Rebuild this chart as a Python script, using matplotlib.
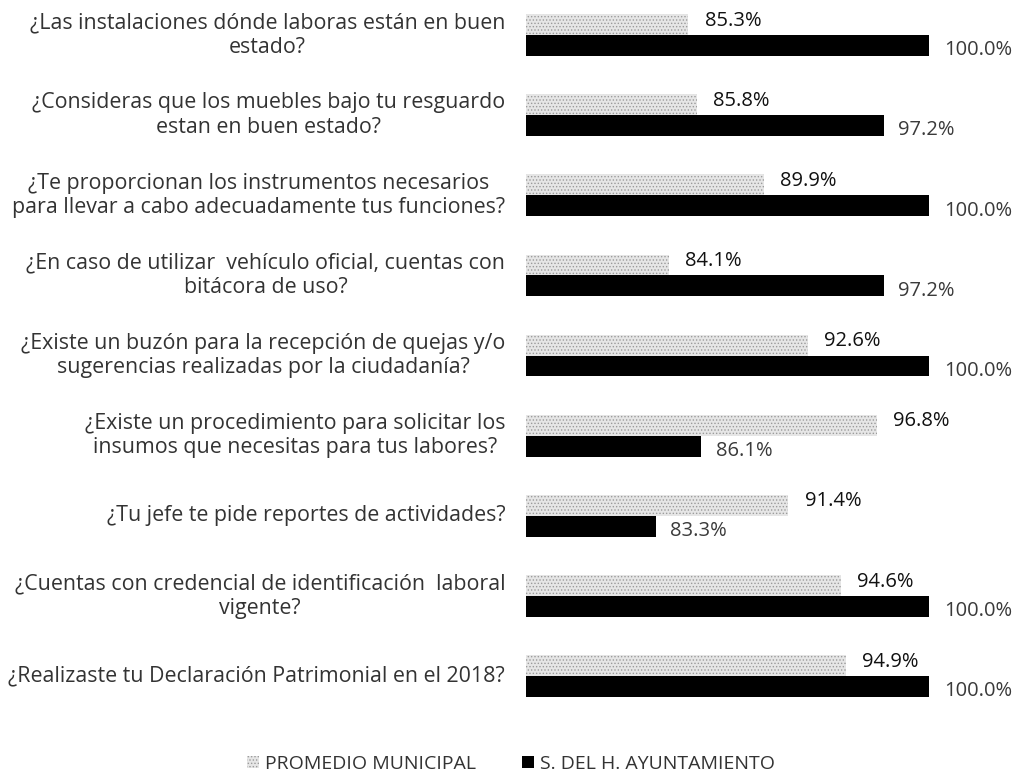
import numpy as np
import matplotlib.pyplot as plt

preguntas = [
    '¿Las instalaciones dónde laboras están en buen\nestado?',
    '¿Consideras que los muebles bajo tu resguardo\nestan en buen estado?',
    '¿Te proporcionan los instrumentos necesarios\npara llevar a cabo adecuadamente tus funciones?',
    '¿En caso de utilizar  vehículo oficial, cuentas con\nbitácora de uso?',
    '¿Existe un buzón para la recepción de quejas y/o\nsugerencias realizadas por la ciudadanía?',
    '¿Existe un procedimiento para solicitar los\ninsumos que necesitas para tus labores?',
    '¿Tu jefe te pide reportes de actividades?',
    '¿Cuentas con credencial de identificación  laboral\nvigente?',
    '¿Realizaste tu Declaración Patrimonial en el 2018?',
]
promedio = [85.3, 85.8, 89.9, 84.1, 92.6, 96.8, 91.4, 94.6, 94.9]
ayuntamiento = [100.0, 97.2, 100.0, 97.2, 100.0, 86.1, 83.3, 100.0, 100.0]

plt.rcParams['font.family'] = ['Open Sans', 'DejaVu Sans']
plt.rcParams['hatch.color'] = '#8a8a8a'
plt.rcParams['hatch.linewidth'] = 0.6

W, H = 1023, 781
fig = plt.figure(figsize=(W / 100, H / 100), dpi=100)
ax = fig.add_axes([526 / W, 1 - 721 / H, (W - 526) / W, 721 / H])

x0 = 75.4
px = 16.4  # pixeles por punto porcentual
ax.set_xlim(x0, x0 + (W - 526) / px)
ax.set_ylim(8.56, -0.437)
ax.axis('off')

y = np.arange(len(preguntas))
h = 0.26
ax.barh(y - h / 2, np.array(promedio) - x0, left=x0, height=h,
        color='#e6e6e6', hatch='.....', edgecolor='#9a9a9a', linewidth=0,
        label='PROMEDIO MUNICIPAL')
ax.barh(y + h / 2, np.array(ayuntamiento) - x0, left=x0, height=h,
        color='black', label='S. DEL H. AYUNTAMIENTO')

for i in range(len(preguntas)):
    ax.text(promedio[i] + 1.0, y[i] - h / 2 - 0.05, f'{promedio[i]:.1f}%',
            va='center', ha='left', fontsize=14.5, color='#111111')
    ax.text(ayuntamiento[i] + 0.9, y[i] + h / 2 + 0.06, f'{ayuntamiento[i]:.1f}%',
            va='center', ha='left', fontsize=14.5, color='#3a3a3a')
    ax.text(-0.042, y[i], preguntas[i], transform=ax.get_yaxis_transform(),
            ha='right', va='center', fontsize=15.4, color='#333333',
            linespacing=1.22, multialignment='center')

leg = fig.legend(loc='center', bbox_to_anchor=(511 / W, 1 - 764 / H),
                 ncol=2, frameon=False, fontsize=14, handlelength=0.6,
                 handleheight=0.6, handletextpad=0.3, columnspacing=2.4)
for t in leg.get_texts():
    t.set_color('#333333')

fig.savefig('out.png', dpi=100)
